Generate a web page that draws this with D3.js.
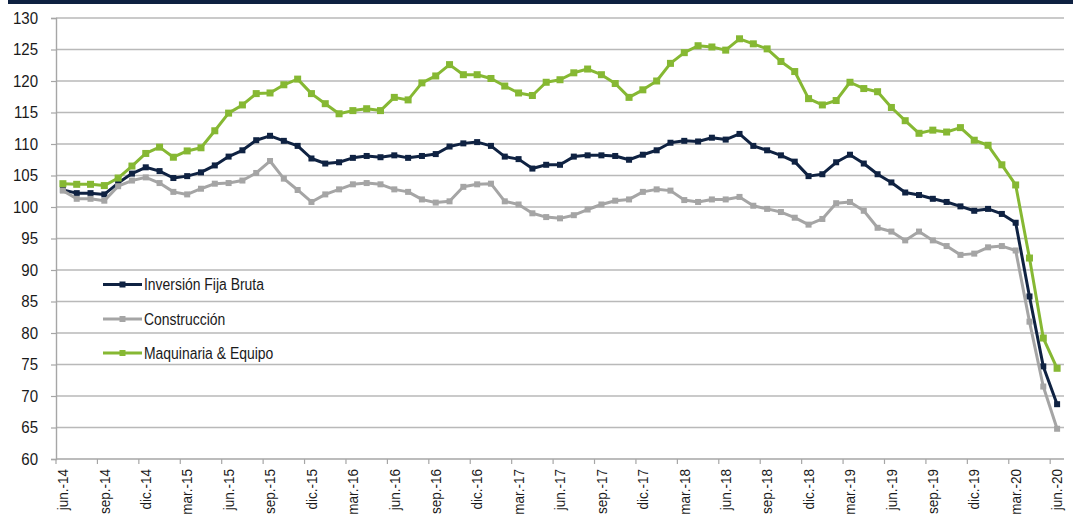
<!DOCTYPE html>
<html>
<head>
<meta charset="utf-8">
<script src="https://cdn.jsdelivr.net/npm/d3@7"></script>
<style>
  html, body { margin: 0; padding: 0; background: #fff; }
  svg { display: block; font-family: "Liberation Sans", Arial, sans-serif; }
</style>
</head>
<body>
<div id="chart"></div>
<script>
// monthly index values, jun-14 .. jun-20
const tickLabels = [
  "jun.-14", "sep.-14", "dic.-14", "mar.-15", "jun.-15", "sep.-15", "dic.-15",
  "mar.-16", "jun.-16", "sep.-16", "dic.-16", "mar.-17", "jun.-17", "sep.-17",
  "dic.-17", "mar.-18", "jun.-18", "sep.-18", "dic.-18", "mar.-19", "jun.-19",
  "sep.-19", "dic.-19", "mar.-20", "jun.-20"
];

const inversion = [
  102.7, 102.2, 102.2, 102.0, 103.8, 105.3, 106.3, 105.7, 104.6, 104.9,
  105.5, 106.6, 108.0, 109.0, 110.6, 111.3, 110.5, 109.7, 107.7, 106.9,
  107.1, 107.8, 108.1, 107.9, 108.2, 107.8, 108.1, 108.4, 109.6, 110.1,
  110.3, 109.7, 108.0, 107.6, 106.1, 106.7, 106.7, 108.0, 108.2, 108.2,
  108.1, 107.5, 108.3, 109.0, 110.2, 110.5, 110.4, 111.0, 110.7, 111.6,
  109.7, 109.0, 108.2, 107.2, 104.9, 105.2, 107.1, 108.3, 106.9, 105.2,
  103.9, 102.3, 101.9, 101.3, 100.8, 100.1, 99.4, 99.7, 98.9, 97.5,
  85.8, 74.7, 68.7
];

const construccion = [
  102.6, 101.3, 101.3, 101.0, 103.3, 104.2, 104.7, 103.8, 102.4, 102.0,
  102.9, 103.7, 103.8, 104.2, 105.4, 107.3, 104.5, 102.7, 100.8, 102.0,
  102.8, 103.6, 103.8, 103.6, 102.8, 102.4, 101.2, 100.7, 100.9, 103.2,
  103.6, 103.7, 100.9, 100.4, 99.0, 98.4, 98.2, 98.7, 99.6, 100.4,
  101.0, 101.2, 102.4, 102.8, 102.6, 101.1, 100.8, 101.2, 101.2, 101.6,
  100.2, 99.7, 99.2, 98.3, 97.2, 98.1, 100.6, 100.8, 99.4, 96.7,
  96.1, 94.7, 96.1, 94.7, 93.8, 92.4, 92.6, 93.6, 93.8, 93.1,
  81.8, 71.5, 64.8
];

const maquinaria = [
  103.7, 103.6, 103.6, 103.4, 104.6, 106.5, 108.5, 109.5, 107.9, 108.9,
  109.4, 112.1, 114.9, 116.2, 118.0, 118.1, 119.4, 120.3, 118.0, 116.4,
  114.8, 115.3, 115.6, 115.3, 117.4, 117.0, 119.7, 120.8, 122.6, 121.0,
  121.0, 120.4, 119.2, 118.1, 117.7, 119.8, 120.2, 121.3, 121.9, 121.0,
  119.6, 117.4, 118.6, 120.0, 122.8, 124.5, 125.6, 125.4, 124.9, 126.7,
  125.9, 125.1, 123.1, 121.5, 117.2, 116.2, 116.9, 119.8, 118.8, 118.3,
  115.8, 113.7, 111.7, 112.2, 111.9, 112.6, 110.6, 109.8, 106.7, 103.5,
  91.9, 79.2, 74.4
];

const seriesNames = ["Inversión Fija Bruta", "Construcción", "Maquinaria & Equipo"];
const yTicks = d3.range(60, 131, 5);

const width = 1078;
const height = 517;
const plot = { left: 56, right: 1064, top: 18, bottom: 459 };

const colors = {
  band: "#0e2141",
  grid: "#b9b9b9",
  axis: "#a6a6a6",
  text: "#1a1a1a",
  series: ["#0f2242", "#a5a5a5", "#86b833"]
};

// narrow the glyphs a bit, the source uses a condensed face
function squeeze(sel, k) {
  sel.each(function () {
    const w = this.getComputedTextLength();
    d3.select(this)
      .attr("textLength", w * k)
      .attr("lengthAdjust", "spacingAndGlyphs");
  });
}

function render() {
  const svg = d3
    .select("#chart")
    .append("svg")
    .attr("width", width)
    .attr("height", height);

  const x = d3
    .scaleBand()
    .domain(d3.range(inversion.length))
    .range([plot.left, plot.right])
    .padding(0);
  const xc = (i) => x(i) + x.bandwidth() / 2;
  const y = d3.scaleLinear().domain([60, 130]).range([plot.bottom, plot.top]);

  // top band
  svg
    .append("rect")
    .attr("x", 8)
    .attr("y", 0)
    .attr("width", 1065)
    .attr("height", 4)
    .attr("fill", colors.band);

  // horizontal grid
  svg
    .append("g")
    .selectAll("line")
    .data(yTicks.filter((d) => d > 60))
    .join("line")
    .attr("x1", plot.left)
    .attr("x2", plot.right)
    .attr("y1", (d) => y(d))
    .attr("y2", (d) => y(d))
    .attr("stroke", colors.grid)
    .attr("stroke-width", 1.4);

  // y axis
  const yAxis = svg
    .append("g")
    .attr("transform", `translate(${plot.left},0)`)
    .call(d3.axisLeft(y).tickValues(yTicks).tickSize(5).tickPadding(13));
  yAxis.select(".domain").attr("stroke", colors.axis).attr("stroke-width", 1.4);
  yAxis.selectAll(".tick line").attr("stroke", colors.axis).attr("stroke-width", 1.2);
  yAxis
    .selectAll(".tick text")
    .attr("fill", colors.text)
    .attr("font-size", 16)
    .attr("font-family", null)
    .call(squeeze, 0.94);

  // x axis
  const tickIdx = d3.range(0, inversion.length, 3);
  const xAxis = svg.append("g");
  xAxis
    .append("line")
    .attr("x1", plot.left)
    .attr("x2", plot.right)
    .attr("y1", plot.bottom)
    .attr("y2", plot.bottom)
    .attr("stroke", colors.axis)
    .attr("stroke-width", 1.4);
  xAxis
    .selectAll("line.tick")
    .data(tickIdx)
    .join("line")
    .attr("class", "tick")
    .attr("x1", (i) => x(i))
    .attr("x2", (i) => x(i))
    .attr("y1", plot.bottom)
    .attr("y2", plot.bottom + 5)
    .attr("stroke", colors.axis)
    .attr("stroke-width", 1.2);
  xAxis
    .selectAll("text")
    .data(tickIdx)
    .join("text")
    .attr("transform", (i) => `translate(${xc(i)},${plot.bottom + 10}) rotate(-90)`)
    .attr("text-anchor", "end")
    .attr("dy", "0.35em")
    .attr("font-size", 15)
    .attr("fill", colors.text)
    .text((i, k) => tickLabels[k])
    .call(squeeze, 0.9);

  // series
  const line = d3
    .line()
    .x((d, i) => xc(i))
    .y((d) => y(d));
  const allSeries = [inversion, construccion, maquinaria];
  const markerSize = [6, 6, 7];

  allSeries.forEach((values, s) => {
    const g = svg.append("g");
    g.append("path")
      .datum(values)
      .attr("fill", "none")
      .attr("stroke", colors.series[s])
      .attr("stroke-width", 3)
      .attr("stroke-linejoin", "round")
      .attr("d", line);
    g.selectAll("rect")
      .data(values)
      .join("rect")
      .attr("x", (d, i) => xc(i) - markerSize[s] / 2)
      .attr("y", (d) => y(d) - markerSize[s] / 2)
      .attr("width", markerSize[s])
      .attr("height", markerSize[s])
      .attr("fill", colors.series[s]);
  });

  // legend
  const legend = svg
    .append("g")
    .selectAll("g")
    .data(seriesNames)
    .join("g")
    .attr("transform", (d, i) => `translate(103,${[284.5, 319, 353][i]})`);
  legend
    .append("line")
    .attr("x1", 0)
    .attr("x2", 39)
    .attr("stroke", (d, i) => colors.series[i])
    .attr("stroke-width", 3);
  legend
    .append("rect")
    .attr("x", 16.5)
    .attr("y", -3)
    .attr("width", 6)
    .attr("height", 6)
    .attr("fill", (d, i) => colors.series[i]);
  legend
    .append("text")
    .attr("x", 41)
    .attr("dy", "0.36em")
    .attr("font-size", 16)
    .attr("fill", colors.text)
    .text((d) => d)
    .call(squeeze, 0.87);

  return svg.node();
}

render();
</script>
</body>
</html>
